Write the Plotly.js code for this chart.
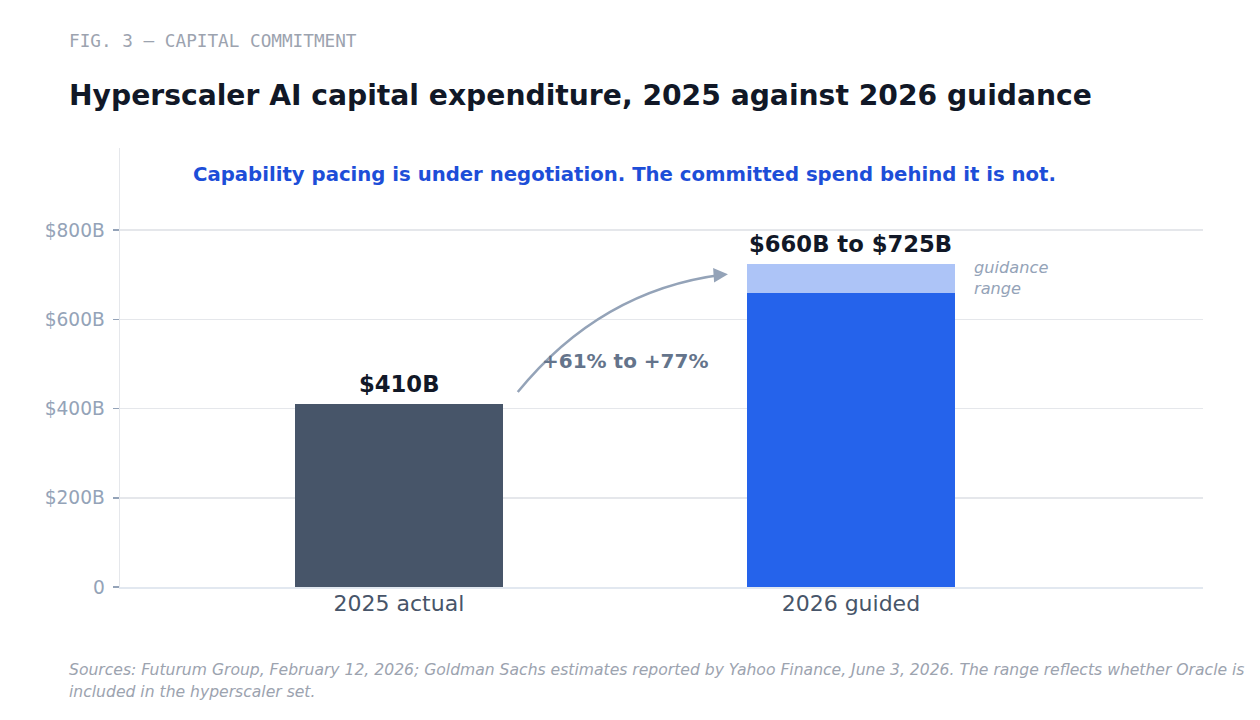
<!DOCTYPE html>
<html>
<head>
<meta charset="utf-8">
<script src="https://cdn.plot.ly/plotly-3.0.1.min.js"></script>
<style>
  html, body { margin: 0; padding: 0; background: #ffffff; }
  #chart { width: 1260px; height: 720px; }
</style>
</head>
<body>
<div id="chart"></div>
<script>
// categories and values (USD billions)
const categories = ['2025 actual', '2026 guided'];
const actual2025 = [410];
const guidedLow = [660];
const guidedHigh = [725];
const yTickVals = [0, 200, 400, 600, 800];
const yTickText = ['0', '$200B', '$400B', '$600B', '$800B'];

const FONT = "'DejaVu Sans', sans-serif";
const MONO = "'DejaVu Sans Mono', monospace";

const sourceLines = [
    'Sources: Futurum Group, February 12, 2026; Goldman Sachs estimates reported by Yahoo Finance, June 3, 2026. The range reflects whether Oracle is',
    'included in the hyperscaler set.'
];

// range segment = high minus low, stacked on top of low
const guidedSpan = guidedHigh.map((v, i) => v - guidedLow[i]);

const traces = [
    {
        type: 'bar',
        x: [0],
        y: actual2025,
        width: 0.46,
        marker: { color: '#475569' },
        hoverinfo: 'skip'
    },
    {
        type: 'bar',
        x: [1],
        y: guidedLow,
        width: 0.46,
        marker: { color: '#2563eb' },
        hoverinfo: 'skip'
    },
    {
        type: 'bar',
        x: [1],
        y: guidedSpan,
        width: 0.46,
        marker: { color: '#adc4f7' },
        hoverinfo: 'skip'
    }
];

// footnote, one annotation per line to get the wider line spacing
const footnotes = sourceLines.map((line, i) => ({
    xref: 'paper', yref: 'paper',
    x: -53 / 1083, y: (587 - 670 - i * 22) / 439,
    xanchor: 'left', yanchor: 'middle',
    text: '<i>' + line + '</i>',
    showarrow: false,
    font: { family: FONT, size: 15.6, color: '#9ca3af' }
}));

const layout = {
    width: 1260,
    height: 720,
    barmode: 'stack',
    showlegend: false,
    paper_bgcolor: '#ffffff',
    plot_bgcolor: '#ffffff',
    margin: { t: 148, r: 57, b: 133, l: 120 },
    font: { family: FONT, color: '#475569' },
    title: {
        text: '<b>Hyperscaler AI capital expenditure, 2025 against 2026 guidance</b>',
        font: { family: FONT, size: 28.2, color: '#111827' },
        x: 69 / 1260,
        xanchor: 'left',
        xref: 'container',
        y: 1 - 95 / 720,
        yanchor: 'middle',
        yref: 'container'
    },
    xaxis: {
        range: [-0.617, 1.779],
        tickvals: [0, 1],
        ticktext: categories,
        tickfont: { family: FONT, size: 22, color: '#475569' },
        showgrid: false,
        zeroline: false,
        showline: true,
        linecolor: '#e2e8f0',
        linewidth: 2,
        ticks: '',
        ticklabelstandoff: -4,
        fixedrange: true
    },
    yaxis: {
        range: [0, 984],
        tickvals: yTickVals,
        ticktext: yTickText,
        tickfont: { family: FONT, size: 18.6, color: '#94a3b8' },
        showgrid: true,
        gridcolor: '#e5e7eb',
        gridwidth: 1.5,
        zeroline: false,
        showline: true,
        linecolor: '#e5e7eb',
        linewidth: 1.5,
        ticks: 'outside',
        ticklen: 6,
        tickwidth: 1.5,
        tickcolor: '#94a3b8',
        ticklabelstandoff: 4,
        fixedrange: true
    },
    shapes: [
        {
            // curved growth arrow
            type: 'path',
            xref: 'x',
            yref: 'y',
            path: 'M 0.263,437 Q 0.446,665 0.715,700',
            line: { color: '#94a3b8', width: 2.5 }
        }
    ],
    annotations: [
        {
            xref: 'paper', yref: 'paper',
            x: -53 / 1083, y: (587 - 41) / 439,
            xanchor: 'left', yanchor: 'middle',
            text: 'FIG. 3 — CAPITAL COMMITMENT',
            showarrow: false,
            font: { family: MONO, size: 17.7, color: '#9ca3af' }
        },
        {
            xref: 'x', yref: 'paper',
            x: 0.5, y: (587 - 174) / 439,
            xanchor: 'center', yanchor: 'middle',
            text: '<b>Capability pacing is under negotiation. The committed spend behind it is not.</b>',
            showarrow: false,
            font: { family: FONT, size: 19.7, color: '#1d4ed8' }
        },
        {
            xref: 'x', yref: 'y',
            x: 0, y: actual2025[0],
            xanchor: 'center', yanchor: 'bottom',
            yshift: 5,
            text: '<b>$' + actual2025[0] + 'B</b>',
            showarrow: false,
            font: { family: FONT, size: 22.7, color: '#111827' }
        },
        {
            xref: 'x', yref: 'y',
            x: 1, y: guidedHigh[0],
            xanchor: 'center', yanchor: 'bottom',
            yshift: 5,
            text: '<b>$' + guidedLow[0] + 'B to $' + guidedHigh[0] + 'B</b>',
            showarrow: false,
            font: { family: FONT, size: 22.7, color: '#111827' }
        },
        {
            xref: 'x', yref: 'y',
            x: 1.268, y: (guidedLow[0] + guidedHigh[0]) / 2,
            xanchor: 'left', yanchor: 'middle',
            align: 'left',
            text: '<i>guidance<br>range</i>',
            showarrow: false,
            font: { family: FONT, size: 16.2, color: '#94a3b8' }
        },
        {
            xref: 'x', yref: 'y',
            x: 0.5, y: 506,
            xanchor: 'center', yanchor: 'middle',
            text: '<b>+' + Math.round((guidedLow[0] / actual2025[0] - 1) * 100) + '% to +' +
                  Math.round((guidedHigh[0] / actual2025[0] - 1) * 100) + '%</b>',
            showarrow: false,
            font: { family: FONT, size: 20, color: '#64748b' }
        },
        {
            // arrowhead at the end of the curve
            xref: 'x', yref: 'y',
            x: 0.728, y: 701,
            ax: -14, ay: 1,
            text: '',
            showarrow: true,
            arrowhead: 2,
            arrowsize: 1.15,
            arrowwidth: 2.5,
            arrowcolor: '#94a3b8',
            standoff: 0
        }
    ].concat(footnotes)
};

Plotly.newPlot('chart', traces, layout, { displayModeBar: false, staticPlot: true });
</script>
</body>
</html>
